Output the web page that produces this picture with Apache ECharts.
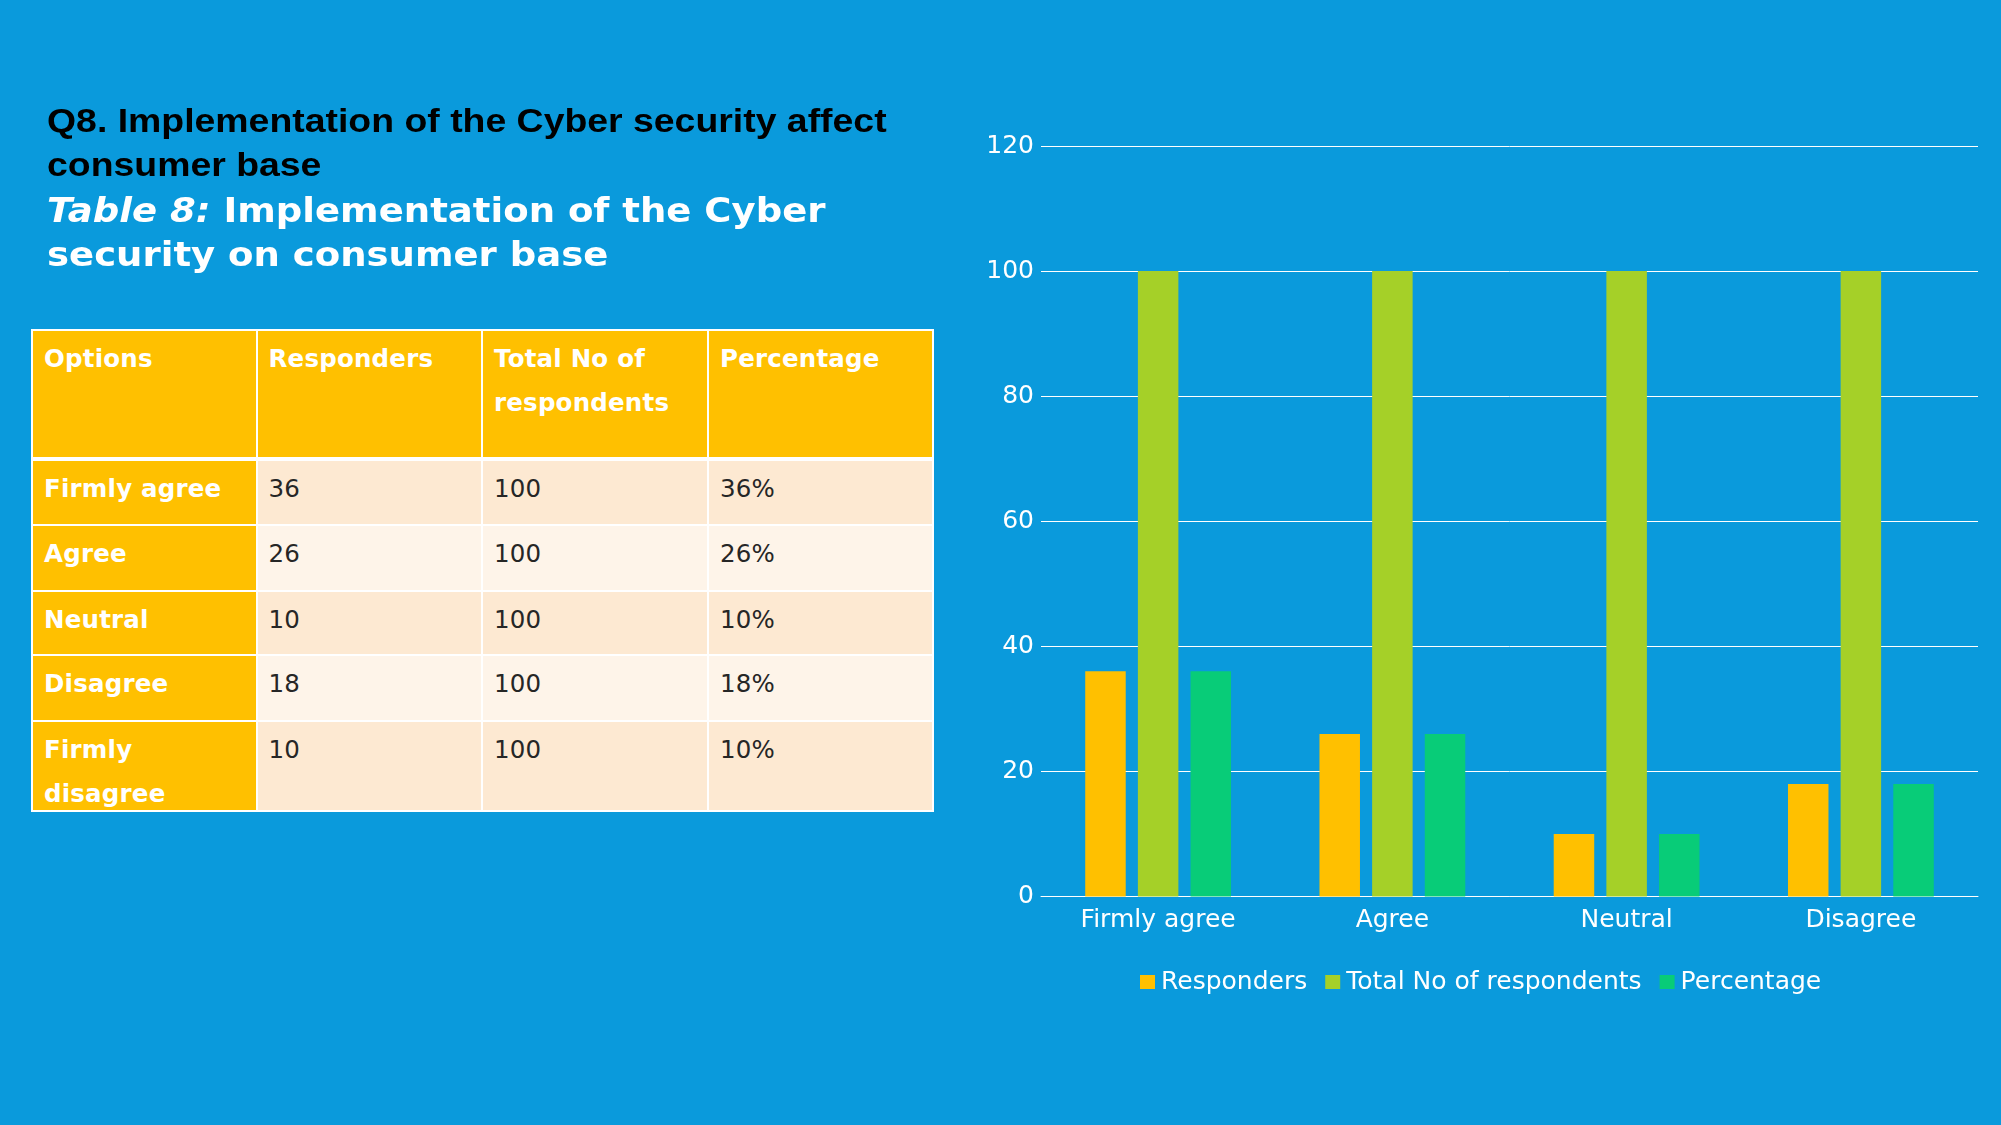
<!DOCTYPE html>
<html>
<head>
<meta charset="utf-8">
<script src="https://cdn.jsdelivr.net/npm/echarts@6/dist/echarts.min.js"></script>
<style>
  html, body { margin: 0; padding: 0; background: #0A9ADC; }
  #page { position: relative; width: 2001px; height: 1125px; overflow: hidden; background: #0A9ADC; }
  #chart { position: absolute; left: 0; top: 0; width: 2001px; height: 1125px; }
  .t1 { position: absolute; left: 47px; font-family: "Liberation Sans", Arial, sans-serif; font-weight: bold; font-size: 34px; line-height: 44px; color: #000; white-space: nowrap; transform: scaleX(1.1); transform-origin: 0 0; }
  .t2 { position: absolute; left: 47px; font-family: "DejaVu Sans", sans-serif; font-weight: bold; font-size: 33.5px; line-height: 44px; color: #fff; white-space: nowrap; transform: scaleX(1.105); transform-origin: 0 0; }
  #tbl { position: absolute; background: #fff; }
  .cell { position: absolute; box-sizing: border-box; padding: 6px 0 0 11px; font-family: "DejaVu Sans", sans-serif; font-size: 24.5px; line-height: 44px; letter-spacing: 0.2px; overflow: hidden; white-space: normal; }
  .hdr { background: #FFC000; color: #fff; font-weight: bold; }
  .odd { background: #FDE9D2; color: #262626; }
  .even { background: #FEF4E9; color: #262626; }
</style>
</head>
<body>
<div id="page">
  <div id="chart"></div>
  <div class="t1" style="top:98px">Q8. Implementation of the Cyber security affect</div>
  <div class="t1" style="top:142px">consumer base</div>
  <div class="t2" style="top:189px"><i>Table 8:</i> Implementation of the Cyber</div>
  <div class="t2" style="top:233px">security on consumer base</div>
  <div id="tbl"></div>
</div>
<script>
// ---- Table content ----
var tableHeaders = ['Options', 'Responders', 'Total No of respondents', 'Percentage'];
var tableOptions = ['Firmly agree', 'Agree', 'Neutral', 'Disagree', 'Firmly disagree'];
var tableResponders = ['36', '26', '10', '18', '10'];
var tableTotals = ['100', '100', '100', '100', '100'];
var tablePercent = ['36%', '26%', '10%', '18%', '10%'];

// ---- Chart data ----
var categories = ['Firmly agree', 'Agree', 'Neutral', 'Disagree'];
var responders = [36, 26, 10, 18];
var totalRespondents = [100, 100, 100, 100];
var percentage = [36, 26, 10, 18];
var seriesNames = ['Responders', 'Total No of respondents', 'Percentage'];

// ---- Build table ----
(function () {
  var colX = [32, 256.5, 482, 708, 933];
  var rowY = [330, 458, 525, 591, 655, 721, 811];
  var tbl = document.getElementById('tbl');
  tbl.style.left = (colX[0] - 1) + 'px';
  tbl.style.top = (rowY[0] - 1) + 'px';
  tbl.style.width = (colX[4] - colX[0] + 2) + 'px';
  tbl.style.height = (rowY[6] - rowY[0] + 2) + 'px';
  var rows = [tableHeaders];
  for (var i = 0; i < tableOptions.length; i++) {
    rows.push([tableOptions[i], tableResponders[i], tableTotals[i], tablePercent[i]]);
  }
  for (var r = 0; r < rows.length; r++) {
    for (var c = 0; c < 4; c++) {
      var d = document.createElement('div');
      var cls = 'cell ';
      if (r === 0 || c === 0) cls += 'hdr';
      else cls += (r % 2 === 1) ? 'odd' : 'even';
      d.className = cls;
      var x0 = colX[c], x1 = colX[c + 1], y0 = rowY[r], y1 = rowY[r + 1];
      d.style.left = (x0 - colX[0] + 2) + 'px';
      d.style.top = (y0 - rowY[0] + 2 + (r === 1 ? 2 : 0)) + 'px';
      d.style.width = (x1 - x0 - 2) + 'px';
      d.style.height = (y1 - y0 - 2 - (r === 1 ? 2 : 0)) + 'px';
      d.textContent = rows[r][c];
      if (r === 0 && c === 2) d.style.paddingRight = '40px';
      if (r === 5 && c === 0) d.style.paddingRight = '80px';
      tbl.appendChild(d);
    }
  }
})();

// ---- Chart ----
var chart = echarts.init(document.getElementById('chart'), null, { renderer: 'canvas' });
var font = 'DejaVu Sans';
var colors = ['#FFC000', '#A5D028', '#08CC78'];
chart.setOption({
  backgroundColor: 'transparent',
  animation: false,
  color: colors,
  grid: { left: 1041, right: 23, top: 146, bottom: 228.5, containLabel: false },
  legend: {
    data: seriesNames,
    left: 1140,
    top: 968,
    padding: 0,
    itemGap: 18,
    itemWidth: 15,
    itemHeight: 14,
    icon: 'rect',
    textStyle: { color: '#fff', fontFamily: font, fontSize: 25, lineHeight: 28, padding: [0, 0, 0, 1] }
  },
  xAxis: {
    type: 'category',
    data: categories,
    axisLine: { lineStyle: { color: '#fff', width: 1 } },
    axisTick: { show: false },
    axisLabel: { color: '#fff', fontFamily: font, fontSize: 25, lineHeight: 28, margin: 9.5 }
  },
  yAxis: {
    type: 'value',
    min: 0, max: 120, interval: 20,
    axisLine: { show: false },
    axisTick: { show: false },
    splitLine: { lineStyle: { color: '#fff', width: 1 } },
    axisLabel: { color: '#fff', fontFamily: font, fontSize: 25, margin: 7, padding: [4, 0, 0, 0] }
  },
  series: [
    { name: seriesNames[0], type: 'bar', data: responders, barWidth: 40.5, barGap: '30%', itemStyle: { color: colors[0] } },
    { name: seriesNames[1], type: 'bar', data: totalRespondents, barWidth: 40.5, barGap: '30%', itemStyle: { color: colors[1] } },
    { name: seriesNames[2], type: 'bar', data: percentage, barWidth: 40.5, barGap: '30%', itemStyle: { color: colors[2] } }
  ]
});
</script>
</body>
</html>
